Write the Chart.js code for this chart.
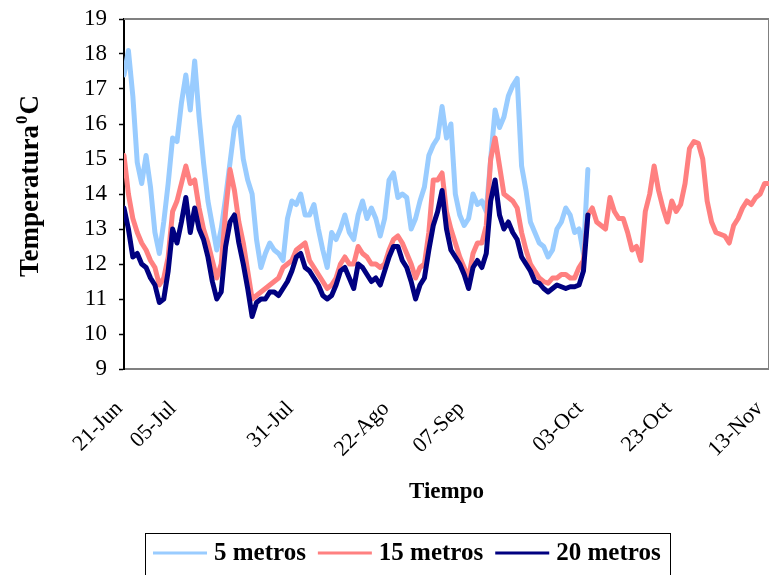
<!DOCTYPE html>
<html>
<head>
<meta charset="utf-8">
<title>Temperatura</title>
<script src="https://cdn.jsdelivr.net/npm/chart.js@4.4.1/dist/chart.umd.min.js"></script>
<style>
  html, body { margin: 0; padding: 0; background: #fff; overflow: hidden; }
  #chart { display: block; }
</style>
</head>
<body>
<canvas id="chart" width="769" height="575"></canvas>
<script>
// x axis runs in days from 21-Jun; tick positions where the date labels sit
const tickDays = [-1.1, 11.1, 37.6, 59.3, 76.3, 103.2, 123.3, 143.9];
const tickLabels = ['21-Jun', '05-Jul', '31-Jul', '22-Ago', '07-Sep', '03-Oct', '23-Oct', '13-Nov'];

const seriesNames = ['5 metros', '15 metros', '20 metros'];
const seriesColors = ['#99CCFF', '#FF8080', '#000080'];

// daily temperatures (°C), one value per day starting 21-Jun
const temp5m = [
  17.4, 18.1, 16.8, 14.9, 14.3, 15.1, 14.2, 12.9, 12.3, 13.2,
  14.3, 15.6, 15.5, 16.6, 17.4, 16.4, 17.8, 16.2, 14.9, 13.8,
  13.1, 12.4, 13.0, 13.9, 14.9, 15.9, 16.2, 15.0, 14.4, 14.0,
  12.7, 11.9, 12.3, 12.6, 12.4, 12.3, 12.1, 13.3, 13.8, 13.7,
  14.0, 13.4, 13.4, 13.7, 13.0, 12.4, 11.9, 12.9, 12.7, 13.0,
  13.4, 12.9, 12.7, 13.4, 13.8, 13.3, 13.6, 13.3, 12.8, 13.3,
  14.4, 14.6, 13.9, 14.0, 13.9, 13.0, 13.3, 13.8, 14.2, 15.1,
  15.4, 15.6, 16.5, 15.6, 16.0, 14.0, 13.4, 13.1, 13.3, 14.0,
  13.7, 13.8, 13.5, 15.0, 16.4, 15.9, 16.2, 16.8, 17.1, 17.3,
  14.8, 14.1, 13.2, 12.9, 12.6, 12.5, 12.2, 12.4, 13.0, 13.2,
  13.6, 13.4, 12.9, 13.0, 12.3, 14.7
];
const temp15m = [
  15.1, 14.0, 13.3, 12.9, 12.6, 12.4, 12.1, 11.9, 11.4, 11.6,
  12.2, 13.5, 13.8, 14.3, 14.8, 14.3, 14.4, 13.6, 13.0, 12.6,
  12.1, 11.6, 12.0, 13.5, 14.7, 14.1, 13.2, 12.6, 11.8, 11.0,
  11.1, 11.2, 11.3, 11.4, 11.5, 11.6, 11.9, 12.0, 12.1, 12.4,
  12.5, 12.6, 12.1, 11.9, 11.7, 11.5, 11.3, 11.4, 11.6, 12.0,
  12.2, 12.0, 12.0, 12.5, 12.3, 12.2, 12.0, 12.0, 11.9, 12.0,
  12.4, 12.7, 12.8, 12.6, 12.3, 12.0, 11.6, 11.9, 12.0, 12.9,
  14.4, 14.4, 14.6, 13.5, 13.0, 12.6, 12.2, 11.9, 11.6, 12.3,
  12.6, 12.6, 13.1, 15.0, 15.6, 14.8, 14.0, 13.9, 13.8, 13.6,
  12.9, 12.4, 12.0, 11.8, 11.6, 11.5, 11.45, 11.6, 11.6, 11.7,
  11.7, 11.6, 11.6, 11.9, 12.1, 13.4, 13.6, 13.2, 13.1, 13.0,
  13.9, 13.5, 13.3, 13.3, 12.9, 12.4, 12.5, 12.1, 13.5, 14.0,
  14.8, 14.1, 13.6, 13.2, 13.8, 13.5, 13.7, 14.3, 15.3, 15.5,
  15.45, 15.0, 13.8, 13.2, 12.9, 12.85, 12.8, 12.6, 13.1, 13.3,
  13.6, 13.8, 13.7, 13.9, 14.0, 14.3, 14.3
];
const temp20m = [
  13.6, 13.0, 12.2, 12.3, 12.0, 11.9, 11.6, 11.4, 10.9, 11.0,
  11.8, 13.0, 12.6, 13.2, 13.9, 12.9, 13.6, 13.0, 12.7, 12.2,
  11.5, 11.0, 11.2, 12.5, 13.2, 13.4, 12.6, 12.0, 11.3, 10.5,
  10.9, 11.0, 11.0, 11.2, 11.2, 11.1, 11.3, 11.5, 11.8, 12.2,
  12.3, 11.9, 11.8, 11.6, 11.4, 11.1, 11.0, 11.1, 11.4, 11.8,
  11.9, 11.6, 11.3, 12.0, 11.9, 11.7, 11.5, 11.6, 11.4, 11.8,
  12.2, 12.5, 12.5, 12.1, 11.9, 11.5, 11.0, 11.4, 11.6, 12.4,
  13.1, 13.5, 14.1, 13.0, 12.4, 12.2, 12.0, 11.7, 11.3, 11.9,
  12.1, 11.9, 12.3, 13.8, 14.4, 13.4, 13.0, 13.2, 12.9, 12.7,
  12.2, 12.0, 11.8, 11.5, 11.45, 11.3, 11.2, 11.3, 11.4, 11.35,
  11.3, 11.35, 11.35, 11.4, 11.8, 13.4
];

const SERIF = '"Liberation Serif", "Times New Roman", serif';

function toPoints(values){ return values.map((v, i) => ({ x: i, y: v })); }

// gray frame on the top and right of the plot area
const framePlugin = {
  id: 'frame',
  beforeDatasetsDraw(chart){
    const { ctx, chartArea: a } = chart;
    ctx.save();
    ctx.strokeStyle = '#808080';
    ctx.lineWidth = 2;
    ctx.beginPath();
    ctx.moveTo(a.left, a.top);
    ctx.lineTo(a.right, a.top);
    ctx.lineTo(a.right, a.bottom);
    ctx.stroke();
    ctx.restore();
  }
};

// y title with the raised 0 before the C
const yTitlePlugin = {
  id: 'yTitle',
  afterDraw(chart){
    const { ctx, chartArea: a } = chart;
    const big = 'bold 27px ' + SERIF;
    const small = 'bold 17px ' + SERIF;
    ctx.save();
    ctx.font = big;
    const w1 = ctx.measureText('Temperatura').width;
    const w3 = ctx.measureText('C').width;
    ctx.font = small;
    const w2 = ctx.measureText('0').width + 2;
    const total = w1 + w2 + w3;
    ctx.translate(38, (a.top + a.bottom) / 2 - 8);
    ctx.rotate(-Math.PI / 2);
    ctx.fillStyle = '#000';
    ctx.textAlign = 'left';
    ctx.textBaseline = 'alphabetic';
    let x = -total / 2;
    ctx.font = big; ctx.fillText('Temperatura', x, 0); x += w1;
    ctx.font = small; ctx.fillText('0', x + 1, -11); x += w2;
    ctx.font = big; ctx.fillText('C', x, 0);
    ctx.restore();
  }
};

// boxed legend under the axis title
const boxLegendPlugin = {
  id: 'boxLegend',
  afterDraw(chart){
    const { ctx } = chart;
    ctx.save();
    ctx.strokeStyle = '#000';
    ctx.lineWidth = 1;
    ctx.strokeRect(145.5, 533.5, 525, 60);
    ctx.font = 'bold 25px ' + SERIF;
    ctx.textAlign = 'left';
    ctx.textBaseline = 'middle';
    let x = 153;
    const yLine = 553;
    chart.data.datasets.forEach(ds => {
      ctx.strokeStyle = ds.borderColor;
      ctx.lineWidth = 3;
      ctx.beginPath();
      ctx.moveTo(x, yLine);
      ctx.lineTo(x + 54, yLine);
      ctx.stroke();
      x += 61;
      ctx.fillStyle = '#000';
      ctx.fillText(ds.label, x, yLine + 1);
      x += ctx.measureText(ds.label).width + 12;
    });
    ctx.restore();
  }
};

const datasets = [temp5m, temp15m, temp20m].map((vals, i) => ({
  label: seriesNames[i],
  data: toPoints(vals),
  borderColor: seriesColors[i],
  backgroundColor: seriesColors[i],
  order: 3 - i
}));

// eslint-disable-next-line no-undef
new Chart(document.getElementById('chart'), {
  type: 'line',
  data: { datasets },
  options: {
    responsive: false,
    animation: false,
    layout: { padding: { top: 19, left: 0, right: 0, bottom: 60 } },
    elements: {
      line: { borderWidth: 5, tension: 0, borderJoinStyle: 'round', borderCapStyle: 'round' },
      point: { radius: 0, hoverRadius: 0 }
    },
    plugins: { legend: { display: false }, tooltip: { enabled: false } },
    scales: {
      x: {
        type: 'linear',
        min: 0,
        max: 146,
        afterBuildTicks(scale){ scale.ticks = tickDays.map(v => ({ value: v })); },
        afterFit(scale){ scale.height = 146; scale.paddingLeft = 0; scale.paddingRight = 0; },
        grid: { drawOnChartArea: false, drawTicks: false },
        border: { color: '#808080', width: 2 },
        ticks: {
          autoSkip: false,
          minRotation: 45,
          maxRotation: 45,
          padding: 27,
          color: '#000',
          font: { family: SERIF, size: 22 },
          callback: (v, i) => tickLabels[i]
        },
        title: {
          display: true,
          text: 'Tiempo',
          color: '#000',
          font: { family: SERIF, size: 23, weight: 'bold' },
          padding: { top: 0, bottom: 9 }
        }
      },
      y: {
        min: 9,
        max: 19,
        afterFit(scale){ scale.width = 124; scale.paddingTop = 0; scale.paddingBottom = 0; },
        grid: { drawOnChartArea: false, drawTicks: true, tickLength: 5, tickColor: '#000', tickWidth: 1.5 },
        border: { color: '#000', width: 2 },
        ticks: {
          stepSize: 1,
          padding: 12,
          color: '#000',
          font: { family: SERIF, size: 23 }
        }
      }
    }
  },
  plugins: [framePlugin, yTitlePlugin, boxLegendPlugin]
});
</script>
</body>
</html>
